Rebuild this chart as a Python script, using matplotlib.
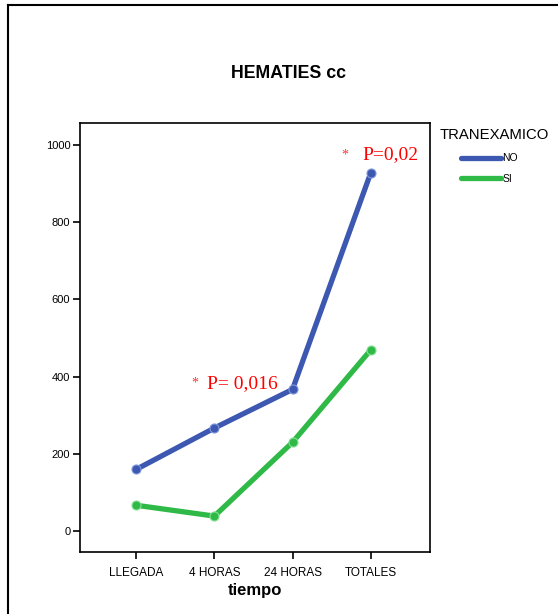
import matplotlib
matplotlib.use("Agg")
import matplotlib.pyplot as plt
from matplotlib.lines import Line2D

categories = ["LLEGADA", "4 HORAS", "24 HORAS", "TOTALES"]
no_values = [160, 267, 367, 927]
si_values = [67, 39, 230, 469]
y_ticks = [0, 200, 400, 600, 800, 1000]

plt.rcParams['font.family'] = ['Liberation Sans', 'DejaVu Sans']

fig = plt.figure(figsize=(5.58, 6.14), dpi=100)
ax = fig.add_axes([80/558, 62/614, 350/558, 429/614])

blue = "#3d58b0"
green = "#2fba48"
x = list(range(len(categories)))
ax.plot(x, no_values, color=blue, lw=3.8, marker='o', ms=6.5,
        mfc=blue, mec="#8197dc", mew=0.8, solid_joinstyle='round', solid_capstyle='round', label="NO")
ax.plot(x, si_values, color=green, lw=3.8, marker='o', ms=6.5,
        mfc=green, mec="#86e095", mew=0.8, solid_joinstyle='round', solid_capstyle='round', label="SI")

ax.set_xlim(-0.72, 3.76)
ax.set_ylim(-54, 1057)
ax.set_xticks(x)
ax.set_xticklabels(categories, fontsize=8.5)
ax.set_yticks(y_ticks)
ax.tick_params(axis='y', labelsize=8, length=5, width=1.2, pad=2)
ax.tick_params(axis='x', labelsize=8.5, length=5, width=1.2, pad=6)
for s in ax.spines.values():
    s.set_linewidth(1.2)
ax.set_xlabel("tiempo", fontsize=12, fontweight='bold', labelpad=3)

fig.text(289/558, 1 - 74/614, "HEMATIES cc", ha='center', va='center',
         fontsize=12.8, fontweight='bold')

serif = ['Liberation Serif', 'DejaVu Serif']
ax.text(0.70, 383, "*", color='#ff3030', fontsize=10, family=serif, va='center', ha='left')
ax.text(0.906, 383, "P= 0,016", color='red', fontsize=14, family=serif, va='center', ha='left')
ax.text(2.63, 974, "*", color='#ff3030', fontsize=10, family=serif, va='center', ha='left')
ax.text(2.89, 974, "P=0,02", color='red', fontsize=14, family=serif, va='center', ha='left')

fig.text(440/558, 1 - 135/614, "TRANEXAMICO", fontsize=10.7, ha='left', va='center')
leg = fig.legend(handles=ax.get_lines(), labels=["NO", "SI"],
                 loc='upper left', bbox_to_anchor=(453/558, 1 - 145/614),
                 frameon=False, fontsize=7.5, borderpad=0.3,
                 handlelength=3.8, handletextpad=0.15, labelspacing=1.0)
for h in leg.legend_handles:
    h.set_marker('')
    h.set_linewidth(3.8)

# outer frame
fig.add_artist(Line2D([8/558, 8/558], [0, 1 - 5/614], color='black', lw=1.5, transform=fig.transFigure))
fig.add_artist(Line2D([8/558, 1], [1 - 5/614, 1 - 5/614], color='black', lw=1.5, transform=fig.transFigure))

fig.savefig("out.png", dpi=100)
